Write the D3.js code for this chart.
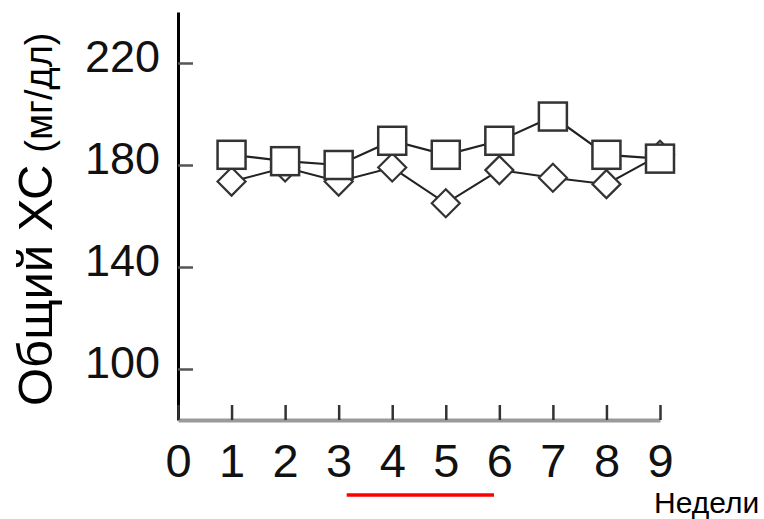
<!DOCTYPE html>
<html lang="ru">
<head>
<meta charset="UTF-8">
<title>Общий ХС по неделям</title>
<script src="https://cdn.jsdelivr.net/npm/d3@7"></script>
<style>
  body { margin: 0; background: #fff; font-family: "Liberation Sans", Arial, sans-serif; }
  svg { display: block; }
</style>
</head>
<body>
<script>
// weeks and the two series (мг/дл)
var weeks = [1, 2, 3, 4, 5, 6, 7, 8, 9];
var squareVals = [184, 181.5, 180, 189.5, 184, 189.5, 199, 184, 182.5];
var diamondVals = [173.5, 179, 173.5, 179, 165, 178, 175, 172.5, 184];
var yTicks = [100, 140, 180, 220];
var xTicks = [0, 1, 2, 3, 4, 5, 6, 7, 8, 9];
var treatment = [3.15, 5.9];   // red bar under the axis

var W = 764, H = 519;
var svg = d3.select("body").append("svg").attr("width", W).attr("height", H);

var x = d3.scaleLinear().domain([0, 9]).range([178, 660]);
var y = d3.scaleLinear().domain([80, 240]).range([420, 12]);

// y axis, ticks pointing inwards
var yAx = svg.append("g").attr("transform", "translate(178,0)")
  .call(d3.axisLeft(y).tickValues(yTicks).tickSizeInner(-15).tickSizeOuter(0).tickPadding(18));
yAx.select(".domain").attr("stroke", "#000").attr("stroke-width", 3);
yAx.selectAll(".tick line").attr("stroke", "#555").attr("stroke-width", 2.5);
yAx.selectAll(".tick text").attr("font-size", 45).attr("fill", "#111").attr("dy", "0.18em")
  .attr("font-family", "Liberation Sans, Arial, sans-serif");

// x axis
var xAx = svg.append("g").attr("transform", "translate(0,420)")
  .call(d3.axisBottom(x).tickValues(xTicks).tickSizeInner(-15).tickSizeOuter(0).tickPadding(24));
xAx.select(".domain").attr("stroke", "#9a9a9a").attr("stroke-width", 4);
xAx.selectAll(".tick line").attr("stroke", "#333").attr("stroke-width", 2.5);
xAx.selectAll(".tick text").attr("font-size", 47).attr("fill", "#111")
  .attr("font-family", "Liberation Sans, Arial, sans-serif");

var line = d3.line().x(function(d, i){ return x(weeks[i]); }).y(function(d){ return y(d); });

// diamonds series first (sits under the squares)
svg.append("path").datum(diamondVals).attr("d", line)
  .attr("fill", "none").attr("stroke", "#222").attr("stroke-width", 2);
svg.append("path").datum(squareVals).attr("d", line)
  .attr("fill", "none").attr("stroke", "#222").attr("stroke-width", 2.2);

svg.selectAll(".dia").data(diamondVals).enter().append("path")
  .attr("class", "dia")
  .attr("transform", function(d, i){ return "translate(" + x(weeks[i]) + "," + y(d) + ")"; })
  .attr("d", "M0,-14L14,0L0,14L-14,0Z")
  .attr("fill", "#fff").attr("stroke", "#333").attr("stroke-width", 2.2);

svg.selectAll(".sq").data(squareVals).enter().append("rect")
  .attr("class", "sq")
  .attr("x", function(d, i){ return x(weeks[i]) - 14; })
  .attr("y", function(d){ return y(d) - 14; })
  .attr("width", 28).attr("height", 28)
  .attr("fill", "#fff").attr("stroke", "#333").attr("stroke-width", 2.5);

// red bar
svg.append("line")
  .attr("x1", x(treatment[0])).attr("x2", x(treatment[1]))
  .attr("y1", 495).attr("y2", 495)
  .attr("stroke", "#ff0000").attr("stroke-width", 3.5);

// y title
var yt = svg.append("text")
  .attr("transform", "translate(52,406) rotate(-90)")
  .attr("fill", "#000");
yt.append("tspan").attr("font-size", 49).text("Общий ХС");
yt.append("tspan").attr("font-size", 38).attr("dx", 12).text("(мг/дл)");

// x title
svg.append("text").attr("x", 654).attr("y", 513)
  .attr("font-size", 30).attr("fill", "#000").text("Недели");
</script>
</body>
</html>
